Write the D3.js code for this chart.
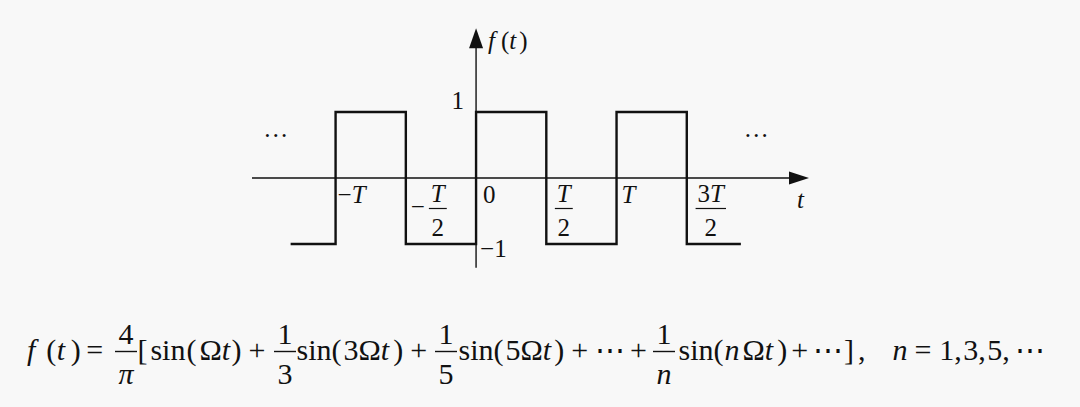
<!DOCTYPE html>
<html>
<head>
<meta charset="utf-8">
<script src="https://cdn.jsdelivr.net/npm/d3@7"></script>
<style>
  html, body { margin: 0; padding: 0; background: #f8f8f8; }
  svg { display: block; }
  text { font-family: "Liberation Serif", "Times New Roman", serif; fill: #111; }
</style>
</head>
<body>
<svg id="chart" width="1080" height="407"></svg>
<script>
// square wave, t measured in units of T/2
const waveT = [-2.64, -2, -1, 0, 1, 2, 3, 3.77];
const waveF = [-1, 1, -1, 1, -1, 1, -1, -1];

// axis extents (same units)
const tAxis = [-3.19, 4.74];
const fAxis = [-1.36, 2.27];

// tick labels on the t axis
const tickU = [-2, -1, 0, 1, 2, 3];
const tickNum = ["−T", "T", "0", "T", "T", "3T"];
const tickDen = [null, "2", null, "2", null, "2"];
const tickSign = [null, "−", null, null, null, null];
const yTickF = [1, -1];
const yTickLabels = ["1", "−1"];

// formula, split into runs between the fractions
const formulaRuns = [
  ["f", "(", "t", ")", "="],
  ["[", "sin", "(", "Ω", "t", ")", "+"],
  ["sin", "(", "3", "Ω", "t", ")", "+"],
  ["sin", "(", "5", "Ω", "t", ")", "+", "⋯", "+"],
  ["sin", "(", "n", "Ω", "t", ")", "+", "⋯", "]", ",", "n", "=", "1", ",", "3", ",", "5", ",", "⋯"]
];
const formulaNum = ["4", "1", "1", "1"];
const formulaDen = ["π", "3", "5", "n"];

// layout: run start, space before each glyph, fraction centres, tick label offsets
const runStart = [27, 137.4, 296.5, 458.5, 678.5];
const runGap = [
  [0, 11, 0.5, 5.5, 5.5],
  [0, 3, 1, 3, 0, 1.5, 7],
  [0, 0, 2, 0, 0, 4, 7],
  [0, 0, 2, 0, 0, 3, 7, 6.5, 5.5],
  [0, 0, 1, 3, 0, 4, 4, 5, 1, 4, 27, 7, 7.7, 0, 1.5, 0, 1.5, 0, 5]
];
const fracX = [126, 285, 446, 664];
const tickDx = [2, 32, 7, 17.5, 5, 24];
const ITALIC = new Set(["f", "t", "n", "T", "π"]);

const svg = d3.select("#chart");

const x = d3.scaleLinear().domain(tAxis).range([252, 809]);
const y = d3.scaleLinear().domain([-1, 1]).range([244, 112]);

// put mixed upright / italic glyphs in one text element
function mathText(sel, str) {
  for (const ch of str) {
    sel.append("tspan")
      .attr("font-style", ITALIC.has(ch) ? "italic" : "normal")
      .text(ch);
  }
  return sel;
}

const plot = svg.append("g");

// axes
plot.append("line")
  .attr("x1", x(tAxis[0])).attr("x2", x(tAxis[1]) - 18)
  .attr("y1", y(0)).attr("y2", y(0))
  .attr("stroke", "#111").attr("stroke-width", 1.4);
plot.append("path")
  .attr("d", `M${x(tAxis[1])},${y(0)} L${x(tAxis[1]) - 20},${y(0) - 6.5} L${x(tAxis[1]) - 20},${y(0) + 6.5} Z`)
  .attr("fill", "#111");

plot.append("line")
  .attr("x1", x(0)).attr("x2", x(0))
  .attr("y1", y(fAxis[0])).attr("y2", y(fAxis[1]) + 18)
  .attr("stroke", "#111").attr("stroke-width", 1.4);
plot.append("path")
  .attr("d", `M${x(0)},${y(fAxis[1])} L${x(0) - 7},${y(fAxis[1]) + 20} L${x(0) + 7},${y(fAxis[1]) + 20} Z`)
  .attr("fill", "#111");

// the square wave
const wave = waveT.map((t, i) => [t, waveF[i]]);
const line = d3.line()
  .x(d => x(d[0]))
  .y(d => y(d[1]))
  .curve(d3.curveStepAfter);
plot.append("path")
  .attr("d", line(wave))
  .attr("fill", "none")
  .attr("stroke", "#111")
  .attr("stroke-width", 2.4)
  .attr("stroke-linejoin", "miter");

// t axis labels
const fs = 25;
tickU.forEach((u, i) => {
  const px = x(u) + tickDx[i];
  if (tickDen[i] == null) {
    mathText(plot.append("text").attr("x", px).attr("y", 203).attr("font-size", fs), tickNum[i]);
    return;
  }
  if (tickSign[i]) {
    plot.append("text").attr("x", x(u) + 5).attr("y", 215).attr("font-size", fs).text(tickSign[i]);
  }
  const num = mathText(plot.append("text").attr("x", px).attr("y", 202)
    .attr("font-size", fs).attr("text-anchor", "middle"), tickNum[i]);
  const den = mathText(plot.append("text").attr("x", px).attr("y", 236)
    .attr("font-size", fs).attr("text-anchor", "middle"), tickDen[i]);
  const w = Math.max(num.node().getComputedTextLength(), den.node().getComputedTextLength()) + 4;
  plot.append("line")
    .attr("x1", px - w / 2).attr("x2", px + w / 2)
    .attr("y1", 208.5).attr("y2", 208.5)
    .attr("stroke", "#111").attr("stroke-width", 1.2);
});

// f axis labels
yTickF.forEach((f, i) => {
  const t = plot.append("text").attr("font-size", fs).text(yTickLabels[i]);
  if (f > 0) t.attr("x", x(0) - 12).attr("y", y(f) - 3).attr("text-anchor", "end");
  else t.attr("x", x(0) + 4).attr("y", y(f) + 13);
});

// axis names
const fname = plot.append("text").attr("x", x(0) + 12).attr("y", 49).attr("font-size", fs);
fname.append("tspan").attr("font-style", "italic").text("f");
fname.append("tspan").attr("dx", 6).text("(");
fname.append("tspan").attr("font-style", "italic").text("t");
fname.append("tspan").attr("dx", 3).text(")");
plot.append("text").attr("x", 797).attr("y", 208).attr("font-size", fs)
  .attr("font-style", "italic").text("t");

// continuation dots
[x(-3.03), x(3.81)].forEach(px => {
  plot.append("text").attr("x", px).attr("y", 137).attr("font-size", fs).text("…");
});

// formula: glyphs flow left to right with their own advances plus the gaps
const eq = svg.append("g").attr("font-size", 30);
formulaRuns.forEach((run, r) => {
  const t = eq.append("text").attr("y", 360);
  let cx = runStart[r];
  run.forEach((tk, i) => {
    cx += runGap[r][i];
    const s = t.append("tspan").attr("x", cx).text(tk);
    if (ITALIC.has(tk)) s.attr("font-style", "italic");
    if (tk === "⋯") s.attr("font-family", "DejaVu Serif");
    cx += s.node().getComputedTextLength();
  });
});
formulaNum.forEach((n, i) => {
  const cx = fracX[i];
  eq.append("text").attr("x", cx).attr("y", 344).attr("text-anchor", "middle").text(n);
  const d = eq.append("text").attr("x", cx).attr("y", 384).attr("text-anchor", "middle").text(formulaDen[i]);
  if (ITALIC.has(formulaDen[i])) d.attr("font-style", "italic");
  eq.append("line")
    .attr("x1", cx - 11).attr("x2", cx + 11)
    .attr("y1", 351.5).attr("y2", 351.5)
    .attr("stroke", "#111").attr("stroke-width", 1.4);
});
</script>
</body>
</html>
